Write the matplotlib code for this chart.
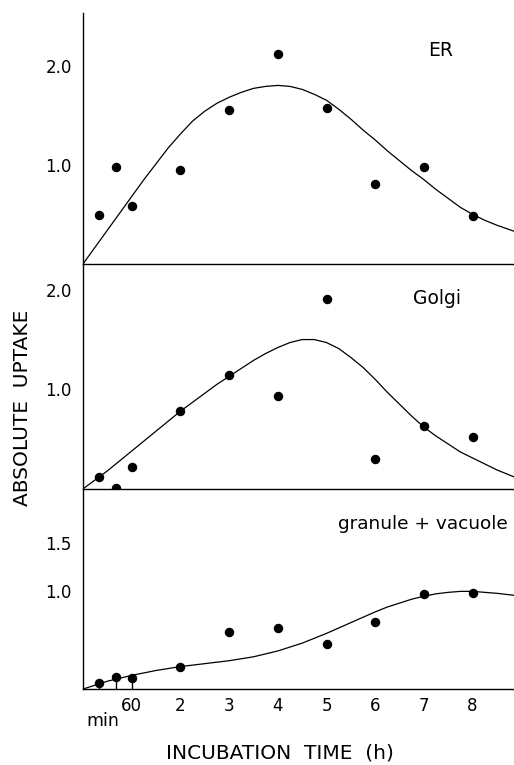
import matplotlib
matplotlib.use("Agg")
import matplotlib.pyplot as plt

# sampling times in hours (20, 40, 60 min, then 2..8 h)
times = [0.33, 0.67, 1.0, 2, 3, 4, 5, 6, 7, 8]

# measured points
er_pts = [0.49, 0.98, 0.58, 0.95, 1.55, 2.12, 1.57, 0.81, 0.98, 0.48]
golgi_pts = [0.12, 0.01, 0.22, 0.78, 1.14, 0.93, 1.91, 0.30, 0.63, 0.52]
gran_pts = [0.06, 0.12, 0.11, 0.23, 0.58, 0.63, 0.46, 0.69, 0.97, 0.98]

# fitted curves
curve_t = [0, 0.25, 0.5, 0.75, 1, 1.25, 1.5, 1.75, 2, 2.25, 2.5, 2.75, 3, 3.25,
           3.5, 3.75, 4, 4.25, 4.5, 4.75, 5, 5.25, 5.5, 5.75, 6, 6.25, 6.5,
           6.75, 7, 7.25, 7.5, 7.75, 8, 8.25, 8.5, 8.85]
er_curve = [0, 0.17, 0.34, 0.51, 0.68, 0.85, 1.01, 1.17, 1.31, 1.44, 1.54, 1.62,
            1.68, 1.73, 1.77, 1.79, 1.80, 1.79, 1.76, 1.71, 1.65, 1.56, 1.46,
            1.35, 1.25, 1.14, 1.04, 0.94, 0.85, 0.75, 0.66, 0.57, 0.50, 0.44,
            0.39, 0.33]
golgi_curve = [0, 0.09, 0.18, 0.28, 0.38, 0.48, 0.58, 0.68, 0.78, 0.87, 0.96, 1.05,
               1.13, 1.21, 1.29, 1.36, 1.42, 1.47, 1.50, 1.50, 1.47, 1.41, 1.32,
               1.22, 1.10, 0.97, 0.85, 0.73, 0.62, 0.53, 0.45, 0.37, 0.31, 0.25,
               0.19, 0.12]
gran_curve = [0, 0.04, 0.08, 0.11, 0.14, 0.165, 0.19, 0.21, 0.23, 0.245, 0.26, 0.275,
              0.29, 0.31, 0.33, 0.36, 0.39, 0.43, 0.47, 0.52, 0.57, 0.625, 0.68,
              0.735, 0.79, 0.84, 0.88, 0.92, 0.95, 0.975, 0.99, 1.0, 1.0, 0.99,
              0.98, 0.96]

xticks = [1, 2, 3, 4, 5, 6, 7, 8]
xticklabels = ["60", "2", "3", "4", "5", "6", "7", "8"]

plt.rcParams['font.family'] = ['DejaVu Sans']

fig = plt.figure(figsize=(5.14, 7.65), dpi=100)
xmax = 8.85

def setup(ax, ymax, yt, ytl):
    ax.set_xlim(0, xmax)
    ax.set_ylim(0, ymax)
    for s in ["top", "right"]:
        ax.spines[s].set_visible(False)
    ax.spines["left"].set_linewidth(1.0)
    ax.spines["bottom"].set_linewidth(1.0)
    ax.set_yticks(yt)
    ax.set_yticklabels(ytl, fontsize=12)
    ax.tick_params(axis="y", length=0, pad=8)
    ax.tick_params(axis="x", length=0)
    ax.patch.set_alpha(0)

# ER
ax1 = fig.add_axes([0.1615, 0.655, 0.8385, 0.328])
setup(ax1, 2.53, [1.0, 2.0], ["1.0", "2.0"])
ax1.plot(curve_t, er_curve, color="black", lw=0.9)
ax1.plot(times, er_pts, "o", color="black", ms=5.8)
ax1.set_xticks([])
ax1.text(0.80, 0.83, "ER", transform=ax1.transAxes, fontsize=13.5)

# Golgi
ax2 = fig.add_axes([0.1615, 0.361, 0.8385, 0.294])
setup(ax2, 2.26, [1.0, 2.0], ["1.0", "2.0"])
ax2.plot(curve_t, golgi_curve, color="black", lw=0.9)
ax2.plot(times, golgi_pts, "o", color="black", ms=5.8)
ax2.set_xticks([])
ax2.text(0.765, 0.82, "Golgi", transform=ax2.transAxes, fontsize=13.5)

# granule + vacuole
ax3 = fig.add_axes([0.1615, 0.0993, 0.8385, 0.2617])
setup(ax3, 2.05, [1.0, 1.5], ["1.0", "1.5"])
ax3.plot(curve_t, gran_curve, color="black", lw=0.9)
ax3.plot(times, gran_pts, "o", color="black", ms=5.8)
ax3.vlines(times[:3], 0, gran_pts[:3], color="black", lw=1.0)
ax3.set_xticks(xticks)
ax3.set_xticklabels(xticklabels, fontsize=12)
ax3.tick_params(axis="x", pad=6)
ax3.text(0.592, 0.80, "granule + vacuole", transform=ax3.transAxes, fontsize=13.3)
ax3.text(0.40, -0.24, "min", transform=ax3.transData, fontsize=12.5, ha="center", va="top")

fig.text(0.043, 0.467, "ABSOLUTE  UPTAKE", rotation=90, ha="center", va="center", fontsize=14.5)
fig.text(0.545, 0.016, "INCUBATION  TIME  (h)", ha="center", va="center", fontsize=14.5)

fig.savefig("out.png", dpi=100)
